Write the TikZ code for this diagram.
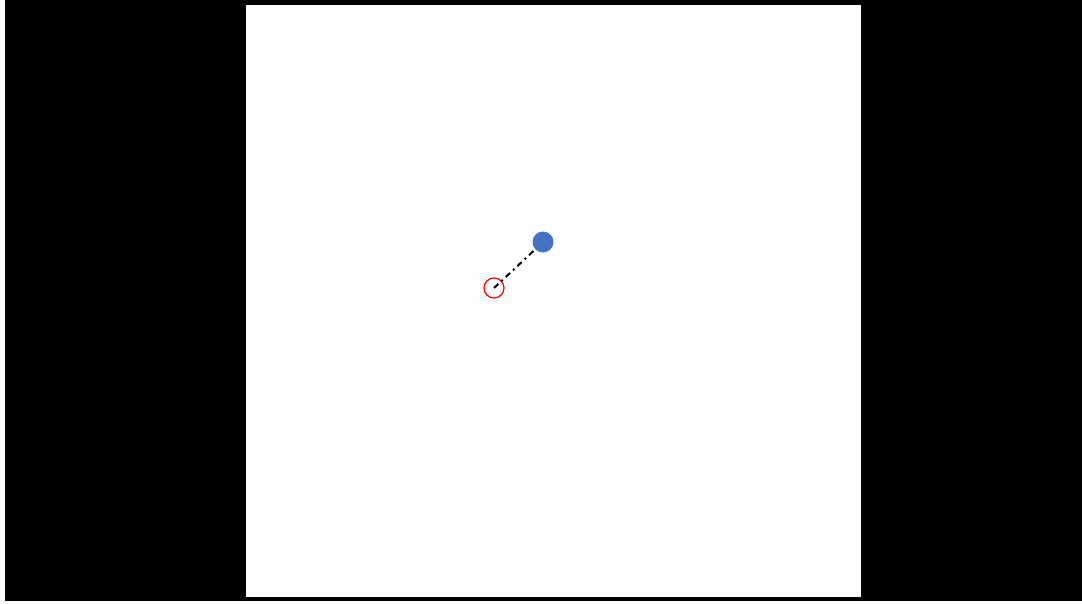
\documentclass[tikz,border=0pt]{standalone}
\definecolor{dotblue}{RGB}{68,114,196}
\tikzset{
  target/.style={circle,draw=red,line width=1.2pt,minimum size=20pt,inner sep=0pt},
  agent/.style={circle,fill=dotblue,minimum size=21pt,inner sep=0pt},
  link/.style={line width=2pt,dash pattern=on 6pt off 4pt on 2pt off 4pt}
}
\begin{document}
\begin{tikzpicture}[x=1pt,y=-1pt]
\useasboundingbox (0,0) rectangle (1082,603);
\fill[white] (0,0) rectangle (1082,603);
\fill[black] (5,0) rectangle (1082,601);
\fill[white] (246,5) rectangle (861,597);
\node[target] (t) at (494,288) {};
\node[agent] (a) at (543,242) {};
\draw[link] (t.center) -- (a);
\end{tikzpicture}
\end{document}
